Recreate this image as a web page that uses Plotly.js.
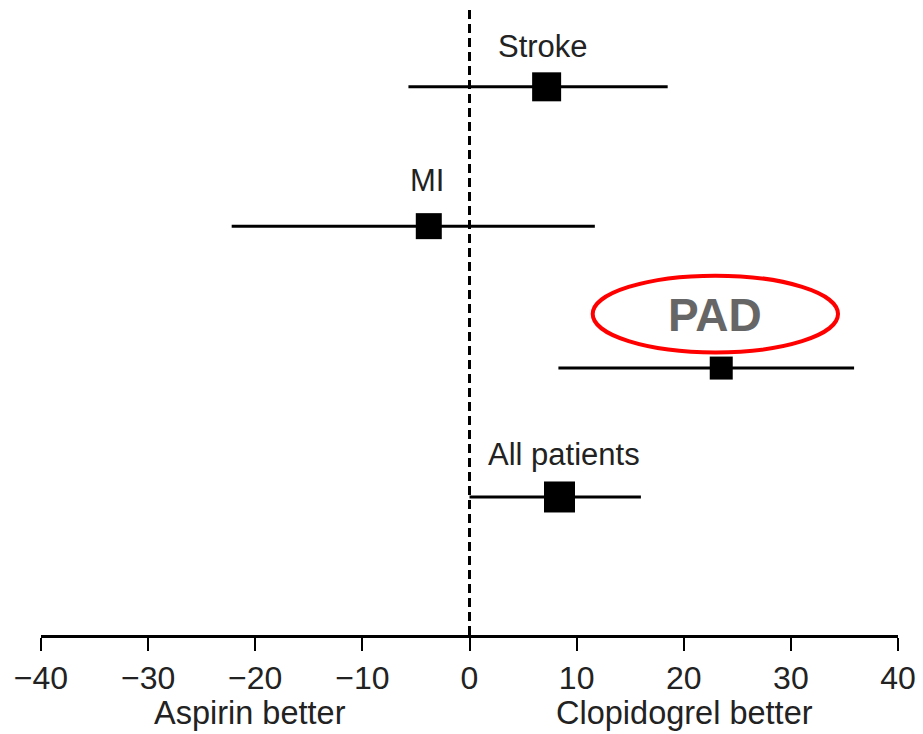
<!DOCTYPE html>
<html>
<head>
<meta charset="utf-8">
<script src="https://cdn.plot.ly/plotly-3.0.1.min.js"></script>
<style>html,body{margin:0;padding:0;background:#fff;}#chart{width:923px;height:734px;}</style>
</head>
<body>
<div id="chart"></div>
<script>
// Data (relative risk reduction %, with 95% CI)
const groups = ["Stroke", "MI", "PAD", "All patients"];
const estimate = [7.2, -3.8, 23.5, 8.4];
const ciLow = [-5.7, -22.2, 8.3, 0.0];
const ciHigh = [18.5, 11.7, 35.9, 16.0];
const rowPos = [4.21, 3.14, 2.05, 1.06];
const markerSize = [29, 26, 23, 31];
const tickVals = [-40, -30, -20, -10, 0, 10, 20, 30, 40];
const sideLabels = ["Aspirin better", "Clopidogrel better"];
const sideLabelX = [-20.5, 20.1];
const labelX = [6.9, -3.95, 22.9, 8.8];
const labelY = [4.52, 3.49, 2.46, 1.39];

const font = "Liberation Sans, Arial, sans-serif";

const trace = {
  type: "scatter",
  mode: "markers",
  x: estimate,
  y: rowPos,
  marker: {symbol: "square", size: markerSize, color: "#000", opacity: 1, line: {width: 0}},
  error_x: {
    type: "data", symmetric: false,
    array: estimate.map((e, i) => ciHigh[i] - e),
    arrayminus: estimate.map((e, i) => e - ciLow[i]),
    color: "#000", thickness: 3, width: 0
  },
  hoverinfo: "skip",
  showlegend: false
};

const annotations = groups.map((g, i) => (g === "PAD" ? {
  x: labelX[i], y: labelY[i], xref: "x", yref: "y", text: "<b>" + g + "</b>",
  showarrow: false, font: {family: font, size: 46, color: "#666666"}
} : {
  x: labelX[i], y: labelY[i], xref: "x", yref: "y", text: g,
  showarrow: false, font: {family: font, size: 31, color: "#222"}
}));
sideLabels.forEach((t, i) => annotations.push({
  x: sideLabelX[i], y: -0.125, xref: "x", yref: "paper", text: t,
  showarrow: false, yanchor: "middle", font: {family: font, size: 32.5, color: "#222"}
}));

const padIdx = groups.indexOf("PAD");
const shapes = [
  {type: "line", xref: "x", yref: "paper", x0: 0, x1: 0, y0: 0, y1: 1,
   line: {color: "#000", width: 3, dash: "9px,5px"}},
  {type: "circle", xref: "x", yref: "y",
   x0: labelX[padIdx] - 11.4, x1: labelX[padIdx] + 11.5,
   y0: labelY[padIdx] - 0.29, y1: labelY[padIdx] + 0.30,
   line: {color: "#ff0000", width: 4}}
];

const layout = {
  width: 923, height: 734,
  margin: {l: 41, r: 25, t: 10, b: 99},
  paper_bgcolor: "#fff", plot_bgcolor: "#fff",
  xaxis: {
    range: [-40, 40], tickvals: tickVals, showgrid: false, zeroline: false,
    showline: true, linecolor: "#000", linewidth: 3,
    ticks: "outside", ticklen: 13, tickwidth: 2, tickcolor: "#000",
    tickfont: {family: font, size: 32, color: "#222"}, fixedrange: true
  },
  yaxis: {range: [0, 4.8], visible: false, fixedrange: true},
  shapes: shapes,
  annotations: annotations
};

Plotly.newPlot("chart", [trace], layout, {displayModeBar: false, staticPlot: true});
</script>
</body>
</html>
